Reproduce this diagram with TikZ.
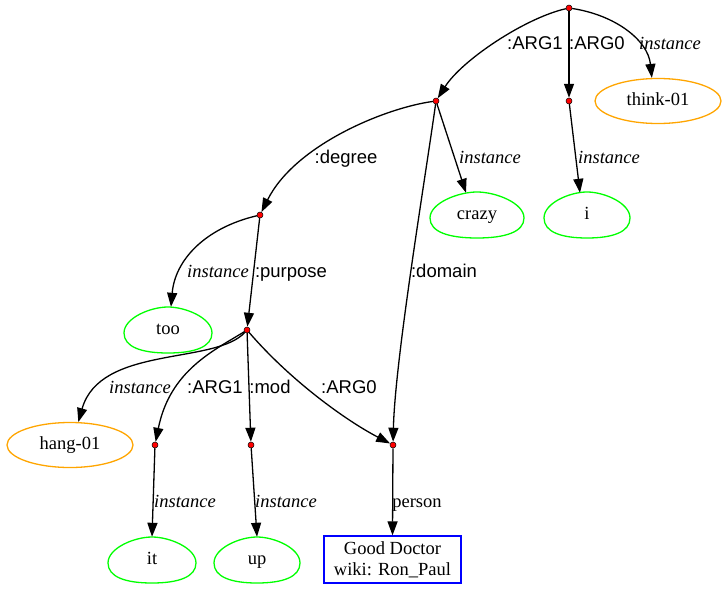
\documentclass[tikz,border=0pt]{standalone}
\usepackage{fontspec}
\setmainfont{Liberation Serif}
\setsansfont{Liberation Sans}
\usetikzlibrary{arrows.meta,shapes.geometric,calc}

\definecolor{gvorange}{HTML}{FFA500}
\definecolor{gvgreen}{HTML}{00FF00}
\definecolor{gvblue}{HTML}{0000FF}
\definecolor{gvred}{HTML}{FF0000}

% egg outline drawn around a (borderless) node; #2 = half width
\newcommand\eggoutline[2]{%
  \draw[eggline]
    ($(#1)+(-#2,3)$) .. controls ($(#1)+(-#2,-12)$) and ($(#1)+(-0.4*#2,-23)$) .. ($(#1)+(0,-23)$)
    .. controls ($(#1)+(0.4*#2,-23)$) and ($(#1)+(#2,-12)$) .. ($(#1)+(#2,3)$)
    .. controls ($(#1)+(#2,17)$) and ($(#1)+(0.6*#2,23)$) .. ($(#1)+(0,23)$)
    .. controls ($(#1)+(-0.6*#2,23)$) and ($(#1)+(-#2,17)$) .. cycle;}

\begin{document}
\begin{tikzpicture}[x=1pt,y=-1pt,
  txt/.style={font=\fontsize{18.5}{21}\selectfont},
  dot/.style={circle, fill=gvred, draw=black, line width=0.5pt, minimum size=6pt, inner sep=0pt},
  conn/.style={draw=black, line width=1.3pt, -{Triangle[length=14pt,width=10pt]}},
  rolelbl/.style={font=\sffamily\fontsize{18.5}{21}\selectfont, anchor=base, inner sep=0pt},
  instlbl/.style={font=\itshape\fontsize{18.5}{21}\selectfont, anchor=base, inner sep=0pt},
  eggnode/.style={txt, inner sep=0pt, text height=12.5pt, text depth=3pt, minimum width=88pt, minimum height=46pt},
  eggline/.style={draw=gvgreen, line width=1.3pt},
  ellnode/.style={txt, ellipse, draw=gvorange, line width=1.3pt, inner sep=0pt, text height=12.5pt, text depth=3pt, minimum width=126pt, minimum height=45pt},
  boxnode/.style={txt, draw=gvblue, line width=1.3pt, align=center, minimum width=137pt, minimum height=47pt, inner sep=0pt}
]
\useasboundingbox (0,0) rectangle (725,589);

% concept points
\node[dot] (root) at (569,8) {};
\node[dot] (a1) at (436,101) {};
\node[dot] (a0) at (569,101) {};
\node[dot] (deg) at (260,215) {};
\node[dot] (purp) at (247,330) {};
\node[dot] (pa1) at (155,445) {};
\node[dot] (pmod) at (251,445) {};
\node[dot] (pers) at (393,445) {};

% instance nodes
\node[ellnode] (think) at (658,101) {think-01};
\node[ellnode] (hang) at (70,445) {hang-01};
\node[eggnode] (crazy) at (477,215) {crazy};
\node[eggnode] (i) at (587,215) {i};
\node[eggnode] (too) at (168,330) {too};
\node[eggnode] (it) at (152,560) {it};
\node[eggnode] (up) at (257,560) {up};
\node[boxnode] (doc) at (392.5,559.5) {Good Doctor\\wiki: Ron\_Paul};

\eggoutline{crazy}{47}
\eggoutline{i}{43}
\eggoutline{too}{44}
\eggoutline{it}{44}
\eggoutline{up}{43}

% connectors
\draw[conn] (root) .. controls (525,18) and (462,60) .. (a1);
\draw[conn] (root) -- (a0);
\draw[conn] (root) .. controls (615,15) and (648,40) .. (think.105);
\draw[conn] (a1) .. controls (385,108) and (295,145) .. (deg);
\draw[conn] (a1) -- ($(crazy.north)+(-11,1)$);
\draw[conn] (a1) .. controls (425,180) and (395,360) .. (pers);
\draw[conn] (a0) -- ($(i.north)+(-7,1)$);
\draw[conn] (deg) .. controls (205,228) and (175,260) .. ($(too.north)+(3,0)$);
\draw[conn] (deg) -- (purp);
\draw[conn] (purp) .. controls (215,365) and (100,345) .. (hang.70);
\draw[conn] (purp) .. controls (215,350) and (170,370) .. (pa1);
\draw[conn] (purp) -- (pmod);
\draw[conn] (purp) .. controls (290,380) and (345,420) .. (pers);
\draw[conn] (pa1) -- (it.north);
\draw[conn] (pmod) -- (up.north);
\draw[conn] (pers) -- (doc.north);

% connector labels
\node[rolelbl] (l1) at (535,49) {:ARG1};
\node[rolelbl] (l2) at (597,49) {:ARG0};
\node[instlbl] (l3) at (670,49) {instance};
\node[rolelbl] (l4) at (346,163) {:degree};
\node[instlbl] (l5) at (490,163) {instance};
\node[instlbl] (l6) at (609,163) {instance};
\node[rolelbl] (l7) at (444,277) {:domain};
\node[instlbl] (l8) at (218,277) {instance};
\node[rolelbl] (l9) at (291,277) {:purpose};
\node[instlbl] (l10) at (140,393) {instance};
\node[rolelbl] (l11) at (215,393) {:ARG1};
\node[rolelbl] (l12) at (270,393) {:mod};
\node[rolelbl] (l13) at (349,393) {:ARG0};
\node[instlbl] (l14) at (185,507) {instance};
\node[instlbl] (l15) at (286,507) {instance};
\node[txt, anchor=base, inner sep=0pt] (l16) at (417,507) {person};
\end{tikzpicture}
\end{document}
